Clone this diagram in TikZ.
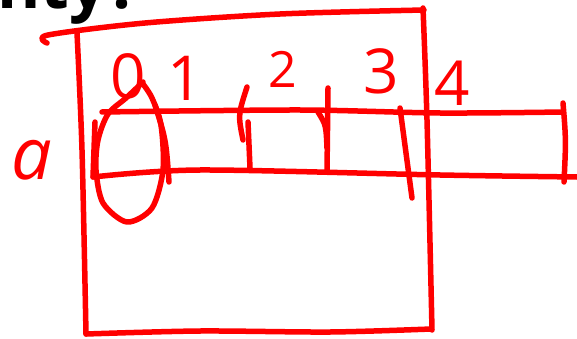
\documentclass[tikz,border=0pt]{standalone}
\usepackage{fontspec}
\setmainfont{Open Sans}
\tikzset{
  pen/.style={draw=red, line width=5.5pt, line cap=round, line join=round},
  digit/.style={text=red, inner sep=0pt, font=\fontsize{62}{62}\selectfont},
}
\newcommand{\strip}{
\def\ytop{112}   % upper edge of the strip
\def\ybot{176}   % lower edge of the strip
}

\begin{document}
\begin{tikzpicture}[x=1pt,y=-1pt]
      \strip
      \useasboundingbox (0,0) rectangle (577,339);
%
      \node[anchor=base east, inner sep=0pt, font=\bfseries\fontsize{66}{66}\selectfont] (title) at (140,9) {nty?};
%
      % outer box
      \draw[pen] plot[smooth] coordinates {(47,43) (48,35) (145,23) (280,14) (424,10)};
      \draw[pen] plot[smooth] coordinates {(77,33) (82,150) (86,334)};
      \draw[pen] plot[smooth] coordinates {(86,334) (200,331) (330,332) (431,329)};
      \draw[pen] plot[smooth] coordinates {(423,8) (427,120) (432,330)};
%
      % strip
      \draw[pen] plot[smooth] coordinates {(102,{\ytop}) (300,{\ytop-2}) (440,{\ytop+1}) (563,{\ytop})};
      \draw[pen] plot[smooth] coordinates {(93,{\ybot+1}) (200,{\ybot-6}) (440,{\ybot-1}) (577,{\ybot+1})};
      \draw[pen] (95,122) -- (93,{\ybot+1});
      \draw[pen] (563,103) .. controls (566,140) .. (564,182);
%
      % cell borders
      \draw[pen] (155,105) .. controls (166,140) .. (169,182);
      \draw[pen] (247,87) .. controls (238,115) .. (243,140);
      \draw[pen] (248,122) -- (250,168);
      \draw[pen] (328,88) -- (327,172);
      \draw[pen] (318,112) .. controls (326,125) .. (327,148);
      \draw[pen] (400,108) -- (412,198);
%
      % ring round cell 0
      \draw[pen] plot[smooth] coordinates {(143,82) (126,98) (108,114) (98,140) (96,170) (103,203) (127,222) (152,208) (163,170) (161,125) (152,98) (143,84)};
%
      \node[digit] (lab0) at (128,76) {0};
      \node[digit] (lab1) at (185,78) {1};
      \node[digit, font=\fontsize{50}{50}\selectfont] (lab2) at (283,69) {2};
      \node[digit] (lab3) at (381,71) {3};
      \node[digit] (lab4) at (452,83) {4};
      \node[digit, font=\itshape\fontsize{72}{72}\selectfont] (lbla) at (32,160) {a};
    \end{tikzpicture}
\end{document}
